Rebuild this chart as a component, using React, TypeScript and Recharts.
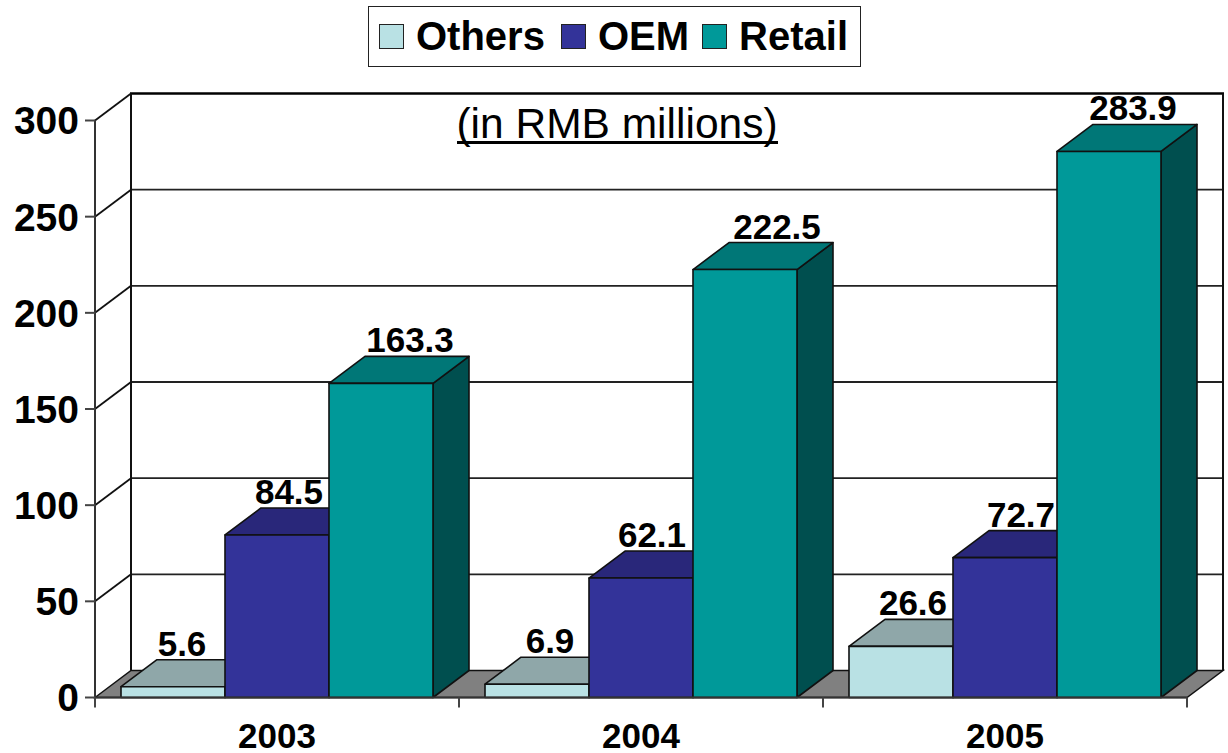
import React from "react";
import { BarChart, Bar, XAxis, YAxis, CartesianGrid, Legend, LabelList, ReferenceArea } from "recharts";

const years = ["2003", "2004", "2005"];
const others = [5.6, 6.9, 26.6];
const oem = [84.5, 62.1, 72.7];
const retail = [163.3, 222.5, 283.9];
const yTicks = [0, 50, 100, 150, 200, 250, 300];
const unitNote = "(in RMB millions)";

const tableRows = years.map((year, i) => ({ year, Others: others[i], OEM: oem[i], Retail: retail[i] }));

const FONT = "'Liberation Sans', Arial, sans-serif";
const DX = 36;
const DY = -27;
const LINE = "#111";

function box3d(topFill: string, sideFill: string) {
  return function Box(p: any) {
    const { x, y, width: w, height: h, fill } = p;
    if (h == null) return null;
    return (
      <g stroke={LINE} strokeWidth={1.6} strokeLinejoin="round">
        <polygon points={`${x + w},${y} ${x + w + DX},${y + DY} ${x + w + DX},${y + h + DY} ${x + w},${y + h}`} fill={sideFill} />
        <polygon points={`${x},${y} ${x + DX},${y + DY} ${x + w + DX},${y + DY} ${x + w},${y}`} fill={topFill} />
        <rect x={x} y={y} width={w} height={h} fill={fill} />
      </g>
    );
  };
}

function valueLabel(nudges: number[]) {
  return function ValueLabel(p: any) {
    const { x, y, width, value, index } = p;
    return (
      <text x={x + width / 2 + nudges[index]} y={y - 31} textAnchor="middle" fontFamily={FONT} fontWeight="bold" fontSize={35} fill="#000">
        {value}
      </text>
    );
  };
}

function Room(p: any) {
  const { x, y, width: w, height: h } = p;
  const bottom = y + h;
  return (
    <g>
      <polygon points={`${x},${bottom} ${x + DX},${bottom + DY} ${x + w + DX},${bottom + DY} ${x + w},${bottom}`} fill="#808080" stroke={LINE} strokeWidth={1.5} />
      <line x1={x + DX} y1={y + DY} x2={x + DX} y2={bottom + DY} stroke={LINE} strokeWidth={2} />
      <line x1={x + w + DX} y1={y + DY} x2={x + w + DX} y2={bottom + DY} stroke={LINE} strokeWidth={2} />
      <text x={x + 522} y={y + 17} textAnchor="middle" fontFamily={FONT} fontSize={42.5} fill="#000">
        {unitNote}
      </text>
      <line x1={x + 362} x2={x + 683} y1={y + 22} y2={y + 22} stroke="#000" strokeWidth={3} />
    </g>
  );
}

function gridRow(p: any) {
  const { x1, x2, y1 } = p;
  const atFloor = Math.abs(y1 - 697.5) < 1;
  if (atFloor) return <g key={p.key} />;
  const atTop = Math.abs(y1 - 120.5) < 1;
  return (
    <g key={p.key}>
      <line x1={x1 + DX - 1} x2={x2 + DX + 1} y1={y1 + DY} y2={y1 + DY} stroke={atTop ? "#000" : "#222"} strokeWidth={atTop ? 2.6 : 1.8} />
      <line x1={x1} x2={x1 + DX} y1={y1} y2={y1 + DY} stroke="#111" strokeWidth={1.8} />
    </g>
  );
}

function YearTick(p: any) {
  const { x, y, payload, index } = p;
  const band = 1092 / years.length;
  const last = index === years.length - 1;
  return (
    <g>
      <line x1={x - band / 2} x2={x - band / 2} y1={y - 8} y2={y + 2} stroke="#444" strokeWidth={2} />
      {last && <line x1={x + band / 2} x2={x + band / 2} y1={y - 8} y2={y + 2} stroke="#444" strokeWidth={2} />}
      <text x={x} y={y + 42} textAnchor="middle" fontFamily={FONT} fontWeight="bold" fontSize={35} fill="#000">
        {payload.value}
      </text>
    </g>
  );
}

const legendGaps = [16, 13, 0];

function LegendBox({ payload }: any) {
  return (
    <div style={{ boxSizing: "border-box", width: 493, height: 61, border: "1.5px solid #222", background: "#fff", display: "flex", alignItems: "center", paddingLeft: 10, fontFamily: FONT, fontWeight: "bold", fontSize: 40, color: "#000", whiteSpace: "nowrap" }}>
      {(payload || []).map((e: any, i: number) => (
        <React.Fragment key={e.value}>
          <span style={{ boxSizing: "border-box", flexShrink: 0, width: 25, height: 25, background: e.color, border: "1.5px solid #222", marginRight: 12 }} />
          <span style={{ flexShrink: 0, marginRight: legendGaps[i], lineHeight: "60px" }}>{e.value}</span>
        </React.Fragment>
      ))}
    </div>
  );
}

export default function App() {
  return (
    <div style={{ position: "absolute", left: 0, top: 0 }}>
      <BarChart
        width={1228}
        height={753}
        data={tableRows}
        margin={{ top: 120.5, right: 41, bottom: 0, left: 0 }}
        barCategoryGap={26}
        barGap={0}
      >
        <CartesianGrid vertical={false} horizontal={gridRow} stroke="#222" />
        <ReferenceArea y1={0} y2={300} ifOverflow="visible" shape={Room} />
        <XAxis
          dataKey="year"
          height={55.5}
          tick={YearTick}
          tickLine={false}
          interval={0}
          axisLine={{ stroke: "#333", strokeWidth: 2 }}
        />
        <YAxis
          width={95}
          domain={[0, 300]}
          ticks={yTicks}
          interval={0}
          tickSize={10}
          tickMargin={6}
          tick={{ fontFamily: FONT, fontWeight: "bold", fontSize: 39, fill: "#000" }}
          tickLine={{ stroke: "#444", strokeWidth: 2 }}
          axisLine={{ stroke: "#333", strokeWidth: 2 }}
        />
        <Legend
          layout="horizontal"
          verticalAlign="middle"
          itemSorter={null}
          content={LegendBox}
          wrapperStyle={{ position: "absolute", left: 368, top: 5.5, width: 493, height: 61 }}
        />
        <Bar dataKey="Others" fill="#B9E1E4" isAnimationActive={false} shape={box3d("#8FA7A9", "#7F9A9C")}>
          <LabelList dataKey="Others" content={valueLabel([9, 13, 12])} />
        </Bar>
        <Bar dataKey="OEM" fill="#333399" isAnimationActive={false} shape={box3d("#29277A", "#1F1F66")}>
          <LabelList dataKey="OEM" content={valueLabel([12, 11, 16])} />
        </Bar>
        <Bar dataKey="Retail" fill="#009999" isAnimationActive={false} shape={box3d("#007777", "#004F4F")}>
          <LabelList dataKey="Retail" content={valueLabel([29, 32, 24])} />
        </Bar>
      </BarChart>
    </div>
  );
}
